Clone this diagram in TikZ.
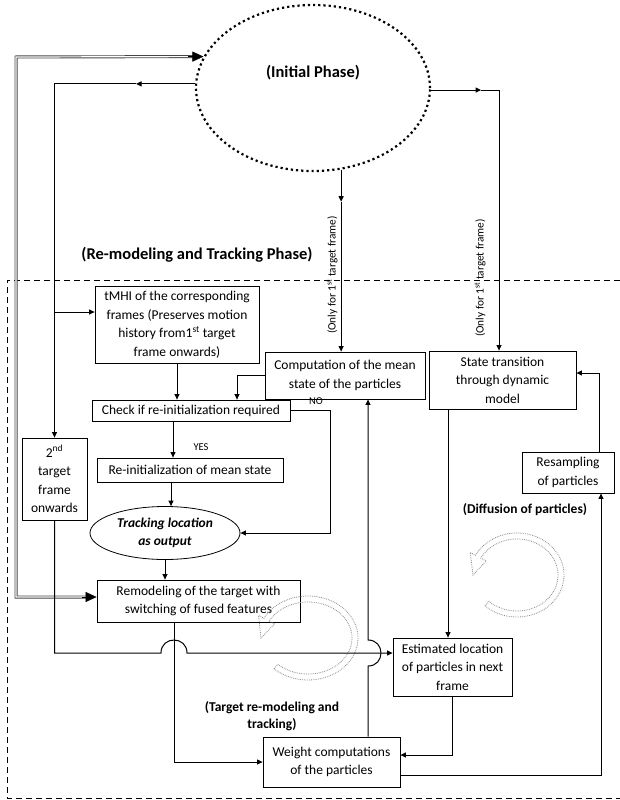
\documentclass[tikz,border=0pt]{standalone}
\usepackage{fontspec}
\setmainfont{Carlito}
\usetikzlibrary{arrows.meta,shapes.geometric}

% hollow curved arrow drawn as a dotted band: centre (#1,#2), radii #3,#4
\newcommand\hollowturn[4]{%
  \draw[turn] plot[domain=133:-152,samples=70] ({#1+(#3+3)*cos(\x)},{#2+(#4+3)*sin(\x)})
    -- ({#1+(#3+9)*cos(-152)},{#2+(#4+9)*sin(-152)})
    -- ({#1+#3*cos(-180)},{#2+#4*sin(-180)})
    -- ({#1+(#3-9)*cos(-152)},{#2+(#4-9)*sin(-152)})
    -- plot[domain=-152:133,samples=70] ({#1+(#3-3)*cos(\x)},{#2+(#4-3)*sin(\x)})
    -- cycle;}

\begin{document}
\begin{tikzpicture}[x=1pt,y=-1pt,
  box/.style={draw, line width=0.8pt, align=center, inner sep=0pt,
              font=\fontsize{13.5}{18.5}\selectfont},
  conn/.style={line width=1pt},
  tip/.style={-{Triangle[length=5.5pt,width=5pt]}},
  bigtip/.style={-{Triangle[length=11pt,width=10pt]}, line width=0.4pt},
  dblout/.style={line width=3pt, draw=gray!55!black, line join=miter},
  dblin/.style={line width=1.2pt, draw=white, line join=miter},
  border/.style={line width=1pt, dash pattern=on 6pt off 4pt},
  title/.style={font=\fontsize{16.5}{19}\selectfont\bfseries},
  note/.style={font=\fontsize{13.5}{17.5}\selectfont\bfseries, align=center},
  side/.style={rotate=90, font=\fontsize{11.3}{13}\selectfont},
  small/.style={font=\fontsize{10.5}{12}\selectfont},
  turn/.style={draw=gray!90, densely dotted, line width=0.8pt}
]
\useasboundingbox (0,0) rectangle (619,800);

% phase regions
\node[draw, ellipse, line width=2.2pt, dash pattern=on 2.2pt off 3pt,
      minimum width=234pt, minimum height=166pt, inner sep=0pt] (init) at (313,88) {};
\node[title] (initlbl) at (313,73) {(Initial Phase)};
\node[title] (phase2) at (197,255) {(Re-modeling and Tracking Phase)};
\draw[border] (630,280) -- (7,280) -- (7,798) -- (630,798);

% process boxes
\node[box, minimum width=164pt, minimum height=77pt] (tmhi) at (177,324.5)
  {tMHI of the corresponding\\frames (Preserves motion\\history from1\textsuperscript{st} target\\frame onwards)};
\node[box, minimum width=160pt, minimum height=47pt] (comp) at (345,375.5)
  {Computation of the mean\\state of the particles};
\node[box, minimum width=198pt, minimum height=21pt] (check) at (191,410.5)
  {Check if re-initialization required};
\node[box, minimum width=186pt, minimum height=24pt] (reinit) at (190,470)
  {Re-initialization of mean state};
\node[box, ellipse, minimum width=150pt, minimum height=53pt,
      font=\fontsize{13.5}{18.5}\selectfont\bfseries\itshape] (track) at (165,533)
  {Tracking location\\as output};
\node[box, minimum width=65pt, minimum height=82pt] (tgt2) at (54.5,479)
  {2\textsuperscript{nd}\\target\\frame\\onwards};
\node[box, minimum width=203pt, minimum height=42pt] (remodel) at (198.5,601)
  {Remodeling of the target with\\switching of fused features};
\node[box, minimum width=137pt, minimum height=50pt] (weight) at (331.5,762)
  {Weight computations\\of the particles};
\node[box, minimum width=119pt, minimum height=58pt] (est) at (452.5,667)
  {Estimated location\\of particles in next\\frame};
\node[box, minimum width=147pt, minimum height=58pt] (state) at (502.5,380)
  {State transition\\through dynamic\\model};
\node[box, minimum width=92pt, minimum height=41pt] (resamp) at (568,472.5)
  {Resampling\\of particles};

% labels
\node[side] (only1) at (332,275) {(Only for 1\textsuperscript{st} target frame)};
\node[side] (only2) at (480,278) {(Only for 1\textsuperscript{st} target frame)};
\node[small] (yes) at (201,447) {YES};
\node[small] (no) at (316,401) {NO};
\node[note] (diff) at (525,510) {(Diffusion of particles)};
\node[note] (trk) at (272,716) {(Target re-modeling and\\tracking)};

% curved process arrows
\hollowturn{308}{638}{47}{39}
\hollowturn{517}{575}{44}{39}

% double feedback line between the re-modeling phase and the initial phase
\path (init.164) ++(-9,0) coordinate (dtop);
\path (init.164) ++(-15,0) coordinate (dtipa);
\coordinate (dtl) at (16,57);
\coordinate (dbl) at (16,597);
\coordinate (dbot) at (88,597);
\coordinate (dtipb) at (82,597);
\draw[dblout] (dtop) -- (dtl) -- (dbl) -- (dbot);
\draw[dblin] (dtop) -- (dtl) -- (dbl) -- (dbot);
\draw[bigtip] (dtipa) -- (init.164);
\draw[bigtip] (dtipb) -- (remodel.west |- dbot);

% connectors from the initial phase
\path (init.178) ++(-59,0) coordinate (m1);
\draw[conn, tip] (init.178) -- (m1);
\draw[conn, tip] (m1) -| (tgt2.north);
\draw[conn, tip] (tgt2.north |- 0,312) -- (tmhi.west |- 0,312);
\path (init.-71) ++(0,32) coordinate (m2);
\draw[conn, tip] (init.-71) -- (m2);
\draw[conn, tip] (m2) -- (comp.north -| m2);
\path (init.-1) ++(50,0) coordinate (m3);
\draw[conn, tip] (init.-1) -- (m3);
\draw[conn, tip] (m3) -| (state.north -| 499,0);

% re-modeling and tracking flow
\draw[conn, tip] (tmhi.south) -- (tmhi.south |- check.north);
\draw[conn, tip] (comp.west) -| (check.north -| 237,0);
\draw[conn, tip] (check.east) -| (track.east -| 330,0) -- (track.east);
\draw[conn, tip] (check.south -| 173,0) -- (reinit.north -| 173,0);
\draw[conn, tip] (reinit.south -| 171,0) -- (track.north -| 171,0);
\draw[conn, tip] (track.south) -- (track.south |- remodel.north);
\draw[conn, tip] (remodel.south -| 174,0) |- (weight.west);
\coordinate (j1a) at (161,653);
\coordinate (j1b) at (187,653);
\draw[conn, tip] (tgt2.south) |- (j1a) .. controls (161,635.7) and (187,635.7) .. (j1b)
  -- (est.west |- j1b);
\coordinate (j2a) at (368,666);
\coordinate (j2b) at (368,640);
\draw[conn, tip] (weight.north -| j2a) -- (j2a) .. controls (385.3,666) and (385.3,640) .. (j2b)
  -- (comp.south -| j2b);

% particle filter loop
\draw[conn, tip] (state.south -| 448,0) -- (est.north -| 448,0);
\draw[conn, tip] (est.south) |- (weight.east |- 0,755);
\draw[conn, tip] (weight.east |- 0,775) -| (resamp.south -| 601,0);
\draw[conn, tip] (resamp.north -| 599,0) |- (state.east |- 0,373);
\end{tikzpicture}
\end{document}
